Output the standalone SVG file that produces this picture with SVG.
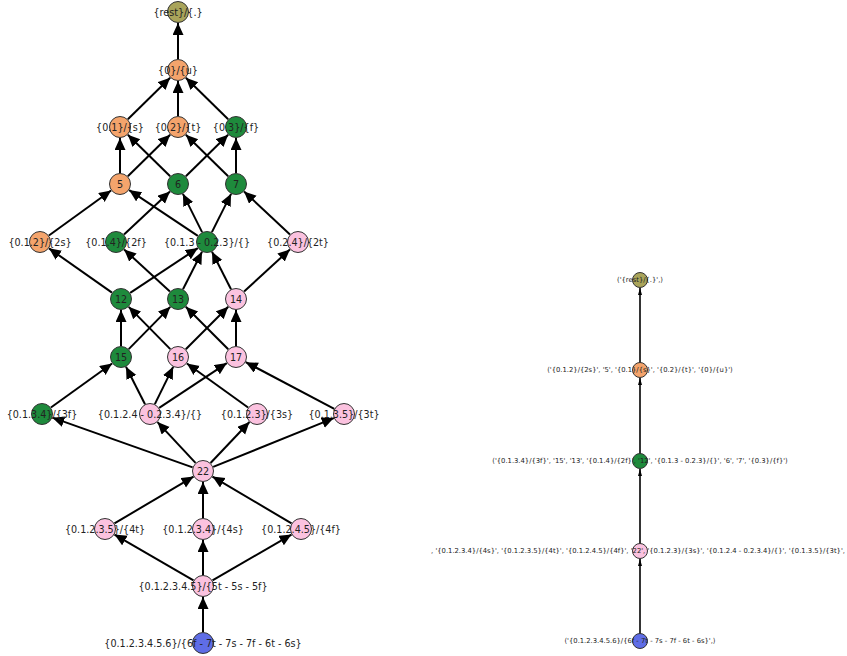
<svg xmlns="http://www.w3.org/2000/svg" width="847" height="656" viewBox="0 0 847 656">
<style>
.bg{fill:#ffffff}
.e{stroke:#000;stroke-width:2;fill:none;marker-end:url(#ah)}
.e2{stroke:#000;stroke-width:1.6;fill:none;marker-end:url(#ahs)}
.n{stroke:#333;stroke-width:1}
.olive{fill:#a9a45a}
.orange{fill:#f4a46c}
.green{fill:#1e8a3c}
.pink{fill:#fbc2df}
.blue{fill:#5f6de6}
.t{font-family:"DejaVu Sans","Liberation Sans",sans-serif;font-size:9.6px;fill:#222;text-anchor:middle;dominant-baseline:central}
.ts{font-family:"DejaVu Sans","Liberation Sans",sans-serif;font-size:6.8px;fill:#222;text-anchor:middle;dominant-baseline:central}
</style>
<defs>
<marker id="ah" markerUnits="userSpaceOnUse" markerWidth="14" markerHeight="12" refX="12" refY="5.5" orient="auto" viewBox="0 0 14 12">
<path d="M0,0 L12,5.5 L0,11 z" fill="#000"/>
</marker>
<marker id="ahs" markerUnits="userSpaceOnUse" markerWidth="8" markerHeight="5" refX="7" refY="2" orient="auto" viewBox="0 0 8 5">
<path d="M0,0 L7,2 L0,4 z" fill="#000"/>
</marker>
</defs>
<rect class="bg" x="0" y="0" width="847" height="656"/>
<g id="connectors">
<line class="e" x1="178" y1="59" x2="178" y2="23"/>
<line class="e" x1="127.85" y1="119.29" x2="170.15" y2="77.71"/>
<line class="e" x1="178" y1="116" x2="178" y2="81"/>
<line class="e" x1="228.15" y1="119.29" x2="185.85" y2="77.71"/>
<line class="e" x1="120" y1="173" x2="120" y2="138"/>
<line class="e" x1="127.85" y1="176.29" x2="170.15" y2="134.71"/>
<line class="e" x1="170.15" y1="176.29" x2="127.85" y2="134.71"/>
<line class="e" x1="185.85" y1="176.29" x2="228.15" y2="134.71"/>
<line class="e" x1="228.15" y1="176.29" x2="185.85" y2="134.71"/>
<line class="e" x1="236" y1="173" x2="236" y2="138"/>
<line class="e" x1="48.91" y1="235.54" x2="111.09" y2="190.46"/>
<line class="e" x1="124.03" y1="234.49" x2="169.97" y2="191.51"/>
<line class="e" x1="197.85" y1="235.9" x2="129.15" y2="190.1"/>
<line class="e" x1="202.08" y1="232.16" x2="182.92" y2="193.84"/>
<line class="e" x1="211.92" y1="232.16" x2="231.08" y2="193.84"/>
<line class="e" x1="289.97" y1="234.49" x2="244.03" y2="191.51"/>
<line class="e" x1="112" y1="292.67" x2="49" y2="248.33"/>
<line class="e" x1="130.17" y1="292.92" x2="197.83" y2="248.08"/>
<line class="e" x1="169.9" y1="291.56" x2="124.1" y2="249.44"/>
<line class="e" x1="182.99" y1="289.2" x2="202.01" y2="251.8"/>
<line class="e" x1="231.01" y1="289.2" x2="211.99" y2="251.8"/>
<line class="e" x1="244.1" y1="291.56" x2="289.9" y2="249.44"/>
<line class="e" x1="121" y1="346" x2="121" y2="310"/>
<line class="e" x1="128.71" y1="349.15" x2="170.29" y2="306.85"/>
<line class="e" x1="170.29" y1="349.15" x2="128.71" y2="306.85"/>
<line class="e" x1="185.78" y1="349.22" x2="228.22" y2="306.78"/>
<line class="e" x1="228.22" y1="349.22" x2="185.78" y2="306.78"/>
<line class="e" x1="236" y1="346" x2="236" y2="310"/>
<line class="e" x1="50.92" y1="407.56" x2="112.08" y2="363.44"/>
<line class="e" x1="145.01" y1="404.2" x2="125.99" y2="366.8"/>
<line class="e" x1="154.85" y1="404.13" x2="173.15" y2="366.87"/>
<line class="e" x1="159.17" y1="407.92" x2="226.83" y2="363.08"/>
<line class="e" x1="248.08" y1="407.56" x2="186.92" y2="363.44"/>
<line class="e" x1="334.27" y1="408.87" x2="245.73" y2="362.13"/>
<line class="e" x1="192.63" y1="467.33" x2="52.37" y2="417.67"/>
<line class="e" x1="195.51" y1="462.94" x2="157.49" y2="422.06"/>
<line class="e" x1="210.56" y1="463.01" x2="249.44" y2="421.99"/>
<line class="e" x1="213.2" y1="466.88" x2="333.8" y2="418.12"/>
<line class="e" x1="114.47" y1="523.4" x2="193.53" y2="476.6"/>
<line class="e" x1="203" y1="518" x2="203" y2="482"/>
<line class="e" x1="291.53" y1="523.4" x2="212.47" y2="476.6"/>
<line class="e" x1="193.49" y1="580.47" x2="114.51" y2="534.53"/>
<line class="e" x1="203" y1="575" x2="203" y2="540"/>
<line class="e" x1="212.51" y1="580.47" x2="291.49" y2="534.53"/>
<line class="e" x1="203" y1="632" x2="203" y2="597"/>
<line class="e2" x1="640" y1="363" x2="640" y2="288"/>
<line class="e2" x1="640" y1="454" x2="640" y2="378"/>
<line class="e2" x1="640" y1="544" x2="640" y2="469"/>
<line class="e2" x1="640" y1="634" x2="640" y2="559"/>
</g>
<g id="n-rest"><circle class="n olive" cx="178" cy="12" r="10.5"/><text class="t" x="178" y="12">{rest}/{.}</text></g>
<g id="n-0u"><circle class="n orange" cx="178" cy="70" r="10.5"/><text class="t" x="178" y="70">{0}/{u}</text></g>
<g id="n-01s"><circle class="n orange" cx="120" cy="127" r="10.5"/><text class="t" x="120" y="127">{0.1}/{s}</text></g>
<g id="n-02t"><circle class="n orange" cx="178" cy="127" r="10.5"/><text class="t" x="178" y="127">{0.2}/{t}</text></g>
<g id="n-03f"><circle class="n green" cx="236" cy="127" r="10.5"/><text class="t" x="236" y="127">{0.3}/{f}</text></g>
<g id="n-5"><circle class="n orange" cx="120" cy="184" r="10.5"/><text class="t" x="120" y="184">5</text></g>
<g id="n-6"><circle class="n green" cx="178" cy="184" r="10.5"/><text class="t" x="178" y="184">6</text></g>
<g id="n-7"><circle class="n green" cx="236" cy="184" r="10.5"/><text class="t" x="236" y="184">7</text></g>
<g id="n-012"><circle class="n orange" cx="40" cy="242" r="10.5"/><text class="t" x="40" y="242">{0.1.2}/{2s}</text></g>
<g id="n-014"><circle class="n green" cx="116" cy="242" r="10.5"/><text class="t" x="116" y="242">{0.1.4}/{2f}</text></g>
<g id="n-013-023"><circle class="n green" cx="207" cy="242" r="10.5"/><text class="t" x="207" y="242">{0.1.3 - 0.2.3}/{}</text></g>
<g id="n-024"><circle class="n pink" cx="298" cy="242" r="10.5"/><text class="t" x="298" y="242">{0.2.4}/{2t}</text></g>
<g id="n-12"><circle class="n green" cx="121" cy="299" r="10.5"/><text class="t" x="121" y="299">12</text></g>
<g id="n-13"><circle class="n green" cx="178" cy="299" r="10.5"/><text class="t" x="178" y="299">13</text></g>
<g id="n-14"><circle class="n pink" cx="236" cy="299" r="10.5"/><text class="t" x="236" y="299">14</text></g>
<g id="n-15"><circle class="n green" cx="121" cy="357" r="10.5"/><text class="t" x="121" y="357">15</text></g>
<g id="n-16"><circle class="n pink" cx="178" cy="357" r="10.5"/><text class="t" x="178" y="357">16</text></g>
<g id="n-17"><circle class="n pink" cx="236" cy="357" r="10.5"/><text class="t" x="236" y="357">17</text></g>
<g id="n-0134"><circle class="n green" cx="42" cy="414" r="10.5"/><text class="t" x="42" y="414">{0.1.3.4}/{3f}</text></g>
<g id="n-0124-0234"><circle class="n pink" cx="150" cy="414" r="10.5"/><text class="t" x="150" y="414">{0.1.2.4 - 0.2.3.4}/{}</text></g>
<g id="n-0123"><circle class="n pink" cx="257" cy="414" r="10.5"/><text class="t" x="257" y="414">{0.1.2.3}/{3s}</text></g>
<g id="n-0135"><circle class="n pink" cx="344" cy="414" r="10.5"/><text class="t" x="344" y="414">{0.1.3.5}/{3t}</text></g>
<g id="n-22"><circle class="n pink" cx="203" cy="471" r="10.5"/><text class="t" x="203" y="471">22</text></g>
<g id="n-01235"><circle class="n pink" cx="105" cy="529" r="10.5"/><text class="t" x="105" y="529">{0.1.2.3.5}/{4t}</text></g>
<g id="n-01234"><circle class="n pink" cx="203" cy="529" r="10.5"/><text class="t" x="203" y="529">{0.1.2.3.4}/{4s}</text></g>
<g id="n-01245"><circle class="n pink" cx="301" cy="529" r="10.5"/><text class="t" x="301" y="529">{0.1.2.4.5}/{4f}</text></g>
<g id="n-012345"><circle class="n pink" cx="203" cy="586" r="10.5"/><text class="t" x="203" y="586">{0.1.2.3.4.5}/{5t - 5s - 5f}</text></g>
<g id="n-0123456"><circle class="n blue" cx="203" cy="643" r="10.5"/><text class="t" x="203" y="643">{0.1.2.3.4.5.6}/{6f - 7t - 7s - 7f - 6t - 6s}</text></g>
<g id="r-rest"><circle class="n olive" cx="640" cy="280" r="7.5"/><text class="ts" x="640" y="280">('{rest}/{.}',)</text></g>
<g id="r-orange"><circle class="n orange" cx="640" cy="370" r="7.5"/><text class="ts" x="640" y="370">('{0.1.2}/{2s}', '5', '{0.1}/{s}', '{0.2}/{t}', '{0}/{u}')</text></g>
<g id="r-green"><circle class="n green" cx="640" cy="461" r="7.5"/><text class="ts" x="640" y="461">('{0.1.3.4}/{3f}', '15', '13', '{0.1.4}/{2f}', '12', '{0.1.3 - 0.2.3}/{}', '6', '7', '{0.3}/{f}')</text></g>
<g id="r-pink"><circle class="n pink" cx="640" cy="551" r="7.5"/><text class="ts" x="638" y="551">, '{0.1.2.3.4}/{4s}', '{0.1.2.3.5}/{4t}', '{0.1.2.4.5}/{4f}', '22', '{0.1.2.3}/{3s}', '{0.1.2.4 - 0.2.3.4}/{}', '{0.1.3.5}/{3t}',</text></g>
<g id="r-blue"><circle class="n blue" cx="640" cy="641" r="7.5"/><text class="ts" x="640" y="641">('{0.1.2.3.4.5.6}/{6f - 7t - 7s - 7f - 6t - 6s}',)</text></g>
</svg>
